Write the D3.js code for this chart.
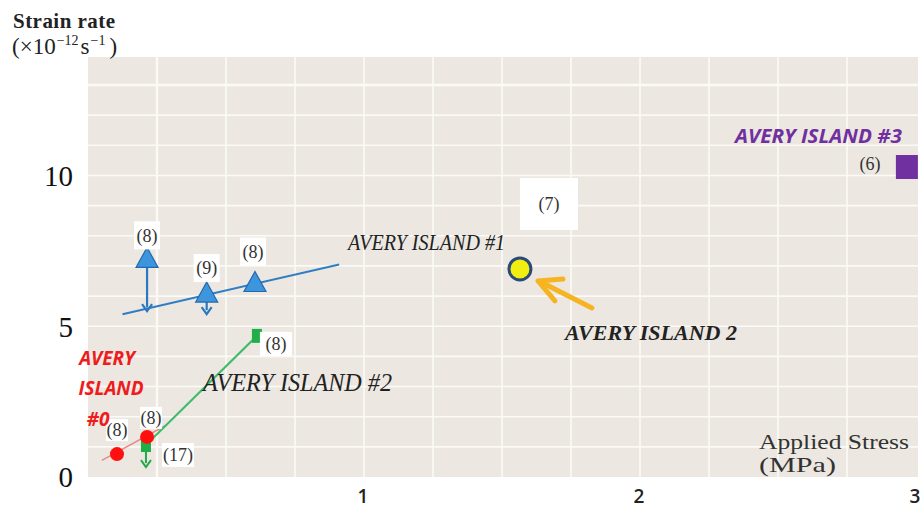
<!DOCTYPE html>
<html><head><meta charset="utf-8">
<script src="https://cdn.jsdelivr.net/npm/d3@7"></script>
<style>body{margin:0;background:#fff}svg{display:block}</style>
</head><body><svg id="c" width="922" height="511"></svg>
<script>
// ---- data ----
const xTicks = [1, 2, 3];
const yTicks = [0, 5, 10];
// AVERY ISLAND #1 (blue triangles)
const island1X = [0.214, 0.43, 0.605];
const island1Y = [7.25, 6.1, 6.45];
const island1N = ["(8)", "(9)", "(8)"];
const island1ArrowTo = [5.5, 5.4, null];
const fit1X = [0.125, 0.91];
const fit1Y = [5.4, 7.05];
// AVERY ISLAND #2 (green squares)
const island2X = [0.21, 0.612];
const island2Y = [1.06, 4.68];
const island2N = ["(17)", "(8)"];
const island2ArrowTo = [0.33, null];
// AVERY ISLAND #0 (red circles)
const island0X = [0.105, 0.214];
const island0Y = [0.76, 1.33];
const island0N = ["(8)", "(8)"];
const fit0X = [0.05, 0.28];
const fit0Y = [0.55, 1.7];
// AVERY ISLAND 2 (yellow circle)
const islandB2X = [1.565];
const islandB2Y = [6.9];
const islandB2N = ["(7)"];
// AVERY ISLAND #3 (purple square)
const island3X = [2.967];
const island3Y = [10.28];
const island3N = ["(6)"];

// ---- layout ----
const svg = d3.select("#c");
const L = 88, R = 918, T = 57, B = 477;
const x = d3.scaleLinear().domain([0, 3]).range([L, 916]);
const y = d3.scaleLinear().domain([0, 13]).range([B, 85]);
const serif = "'Liberation Serif','Times New Roman',serif";
const sans = "'Open Sans','Liberation Sans',sans-serif";

svg.append("rect").attr("x", L).attr("y", T).attr("width", R - L).attr("height", B - T).attr("fill", "#ece8e1");
const g = svg.append("g");
g.selectAll("line.h").data(d3.range(1, 14)).join("line")
  .attr("x1", L).attr("x2", R).attr("y1", d => y(d)).attr("y2", d => y(d))
  .attr("stroke", "#fbfaf7").attr("stroke-width", d => d === 13 ? 2.5 : 1.6);
g.selectAll("line.v").data(d3.range(1, 12).map(i => i * 0.25)).join("line")
  .attr("y1", T).attr("y2", B).attr("x1", d => x(d)).attr("x2", d => x(d))
  .attr("stroke", "#fbfaf7").attr("stroke-width", d => d === 0.25 ? 2.2 : 1.6);

// axes labels
svg.selectAll("text.yt").data(yTicks).join("text")
  .attr("x", 73).attr("y", d => y(d)).attr("dy", "0.36em").attr("text-anchor", "end")
  .attr("font-family", serif).attr("font-size", 29).attr("fill", "#111").text(d => d);
svg.selectAll("text.xt").data(xTicks).join("text")
  .attr("x", d => x(d) - 1).attr("y", 503).attr("text-anchor", "middle")
  .attr("font-family", sans).attr("font-weight", 600).attr("font-size", 19).attr("fill", "#222").text(d => d);

svg.append("text").attr("x", 13).attr("y", 28).attr("font-family", serif).attr("font-size", 21)
  .attr("font-weight", "bold").attr("fill", "#222").attr("textLength", 102).text("Strain rate");
const sub = svg.append("text").attr("x", 12).attr("y", 54).attr("font-family", serif).attr("font-size", 23).attr("fill", "#222");
sub.append("tspan").text("(×10");
sub.append("tspan").attr("dy", -9).attr("font-size", 14).attr("dx", 1).text("−12");
sub.append("tspan").attr("dy", 9).attr("dx", 2).text("s");
sub.append("tspan").attr("dy", -9).attr("font-size", 14).attr("dx", 1).text("−1");
sub.append("tspan").attr("dy", 9).attr("dx", 4).text(")");

svg.append("text").attr("x", 759).attr("y", 449).attr("font-family", serif).attr("font-size", 22).attr("fill", "#333")
  .attr("textLength", 150).attr("lengthAdjust", "spacingAndGlyphs").text("Applied Stress");
svg.append("text").attr("x", 759).attr("y", 472).attr("font-family", serif).attr("font-size", 22).attr("fill", "#333")
  .attr("textLength", 77).attr("lengthAdjust", "spacingAndGlyphs").text("(MPa)");

const line = d3.line().x(d => x(d[0])).y(d => y(d[1]));

// number label with white box
function numLabel(cx, cy, txt, w, h) {
  svg.append("rect").attr("x", cx - w / 2).attr("y", cy - h / 2).attr("width", w).attr("height", h).attr("fill", "#fff");
  svg.append("text").attr("x", cx).attr("y", cy).attr("dy", "0.35em").attr("text-anchor", "middle")
    .attr("font-family", serif).attr("font-size", 18).attr("fill", "#333").text(txt);
}
function arrowDown(px, y1, y2, color, w) {
  svg.append("line").attr("x1", px).attr("x2", px).attr("y1", y1).attr("y2", y2 - 4).attr("stroke", color).attr("stroke-width", w);
  svg.append("path").attr("d", `M${px - 5},${y2 - 7}L${px},${y2}L${px + 5},${y2 - 7}`).attr("fill", "none").attr("stroke", color).attr("stroke-width", w);
}

// ---- AVERY ISLAND #0 ----
svg.append("path").attr("d", line(fit0X.map((d, i) => [d, fit0Y[i]]))).attr("stroke", "#e58a8a").attr("stroke-width", 1.5).attr("fill", "none");
// ---- AVERY ISLAND #2 ----
svg.append("path").attr("d", line(island2X.map((d, i) => [d, island2Y[i]]))).attr("stroke", "#3dbb6a").attr("stroke-width", 2).attr("fill", "none");
island2X.forEach((d, i) => {
  if (island2ArrowTo[i] != null) arrowDown(x(d), y(island2Y[i]), y(island2ArrowTo[i]), "#22a84a", 2);
});
svg.selectAll("rect.g2").data(island2X).join("rect")
  .attr("x", d => x(d) - 5).attr("y", (d, i) => y(island2Y[i]) - 7).attr("width", 10).attr("height", 14).attr("fill", "#1fae48");
island0X.forEach((d, i) => {
  svg.append("circle").attr("cx", x(d)).attr("cy", y(island0Y[i])).attr("r", 7).attr("fill", "#ff1010");
});
const lbl2 = [[32, 10], [19, 8]];
island2X.forEach((d, i) => numLabel(x(d) + lbl2[i][0], y(island2Y[i]) + lbl2[i][1], island2N[i], 32, 24));
const lbl0 = [[0, -24], [4, -19]];
island0X.forEach((d, i) => numLabel(x(d) + lbl0[i][0], y(island0Y[i]) + lbl0[i][1], island0N[i], 22, 22));

// ---- AVERY ISLAND #1 ----
svg.append("path").attr("d", line(fit1X.map((d, i) => [d, fit1Y[i]]))).attr("stroke", "#2f7dc2").attr("stroke-width", 2).attr("fill", "none");
island1X.forEach((d, i) => {
  if (island1ArrowTo[i] != null) arrowDown(x(d), y(island1Y[i]), y(island1ArrowTo[i]), "#2a78c0", 2.2);
});
svg.selectAll("path.tri").data(island1X).join("path")
  .attr("transform", (d, i) => `translate(${x(d)},${y(island1Y[i])})`)
  .attr("d", "M0,-11L11,9L-11,9Z").attr("fill", "#3d95de").attr("stroke", "#2468ad").attr("stroke-width", 1.2);
const lbl1 = [[0, -23], [0, -25], [-2, -31]];
island1X.forEach((d, i) => numLabel(x(d) + lbl1[i][0], y(island1Y[i]) + lbl1[i][1], island1N[i], 26, 28));

// ---- AVERY ISLAND 2 ----
islandB2X.forEach((d, i) => {
  const cx = x(d), cy = y(islandB2Y[i]);
  numLabel(cx + 29, cy - 65, islandB2N[i], 58, 52);
  svg.append("circle").attr("cx", cx).attr("cy", cy).attr("r", 11).attr("fill", "#f2ee12").attr("stroke", "#2b4a78").attr("stroke-width", 3);
  svg.append("line").attr("x1", cx + 72).attr("y1", cy + 39).attr("x2", cx + 21).attr("y2", cy + 13)
    .attr("stroke", "#f6b422").attr("stroke-width", 5).attr("stroke-linecap", "round");
  svg.append("path").attr("d", `M${cx + 43},${cy + 10}L${cx + 18},${cy + 12}L${cx + 35},${cy + 32}`)
    .attr("fill", "none").attr("stroke", "#f6b422").attr("stroke-width", 5).attr("stroke-linejoin", "round").attr("stroke-linecap", "round");
});

// ---- AVERY ISLAND #3 ----
island3X.forEach((d, i) => {
  svg.append("rect").attr("x", x(d) - 11).attr("y", y(island3Y[i]) - 12).attr("width", 22).attr("height", 24).attr("fill", "#7030a0");
  svg.append("text").attr("x", x(d) - 37).attr("y", y(island3Y[i]) - 3).attr("dy", "0.35em").attr("text-anchor", "middle")
    .attr("font-family", serif).attr("font-size", 18).attr("fill", "#333").text(island3N[i]);
});

// ---- series names ----
svg.append("text").attr("x", 348).attr("y", 250).attr("font-family", serif).attr("font-style", "italic").attr("font-size", 24)
  .attr("fill", "#222").attr("textLength", 157).attr("lengthAdjust", "spacingAndGlyphs").text("AVERY ISLAND #1");
svg.append("text").attr("x", 203).attr("y", 391).attr("font-family", serif).attr("font-style", "italic").attr("font-size", 25)
  .attr("fill", "#222").attr("textLength", 189).attr("lengthAdjust", "spacingAndGlyphs").text("AVERY ISLAND #2");
svg.append("text").attr("x", 565).attr("y", 340).attr("font-family", serif).attr("font-style", "italic").attr("font-weight", "bold").attr("font-size", 22)
  .attr("fill", "#222").attr("textLength", 172).attr("lengthAdjust", "spacingAndGlyphs").text("AVERY ISLAND  2");
svg.append("text").attr("x", 735).attr("y", 143).attr("font-family", sans).attr("font-style", "italic").attr("font-weight", "bold").attr("font-size", 20)
  .attr("fill", "#7030a0").attr("textLength", 167).attr("lengthAdjust", "spacingAndGlyphs").text("AVERY ISLAND #3");
const red = svg.append("text").attr("font-family", sans).attr("font-style", "italic").attr("font-weight", "bold").attr("font-size", 19).attr("fill", "#ee1c1c").attr("text-anchor", "middle");
red.append("tspan").attr("x", 107).attr("y", 365).text("AVERY");
red.append("tspan").attr("x", 111).attr("y", 395).text("ISLAND");
red.append("tspan").attr("x", 98).attr("y", 426).text("#0");
</script></body></html>
